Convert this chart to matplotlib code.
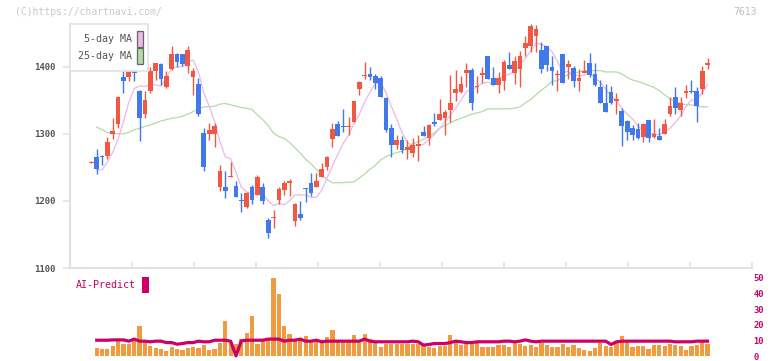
import numpy as np
import matplotlib
matplotlib.use("Agg")
import matplotlib.pyplot as plt
from matplotlib.patches import Rectangle
from matplotlib.transforms import blended_transform_factory

opens = [1257, 1266, 1267, 1267, 1299, 1314, 1385, 1385, 1410, 1364,
         1329, 1364, 1394, 1404, 1370, 1396, 1419, 1418, 1401, 1385,
         1374, 1301, 1299, 1299, 1220, 1220, 1236, 1222, 1201, 1191,
         1221, 1208, 1221, 1171, 1174, 1202, 1216, 1226, 1170, 1181,
         1218, 1227, 1220, 1235, 1250, 1292, 1315, 1311, 1310, 1318,
         1366, 1386, 1389, 1386, 1383, 1353, 1309, 1283, 1291, 1275,
         1271, 1281, 1303, 1293, 1318, 1320, 1324, 1335, 1360, 1362,
         1391, 1395, 1370, 1388, 1416, 1383, 1373, 1379, 1402, 1391,
         1397, 1427, 1430, 1446, 1425, 1431, 1400, 1387, 1419, 1400,
         1398, 1378, 1390, 1405, 1389, 1370, 1346, 1362, 1348, 1334,
         1319, 1309, 1307, 1295, 1321, 1295, 1297, 1299, 1329, 1354,
         1336, 1360, 1363, 1364, 1367, 1403]
highs = [1259, 1277, 1268, 1295, 1323, 1356, 1393, 1411, 1413, 1365,
         1364, 1399, 1406, 1405, 1393, 1431, 1420, 1419, 1431, 1398,
         1383, 1308, 1316, 1316, 1254, 1244, 1258, 1230, 1212, 1213,
         1224, 1239, 1227, 1174, 1187, 1221, 1230, 1233, 1197, 1200,
         1219, 1242, 1241, 1257, 1267, 1316, 1319, 1337, 1325, 1349,
         1378, 1407, 1400, 1389, 1386, 1354, 1315, 1298, 1297, 1290,
         1293, 1298, 1312, 1314, 1331, 1352, 1336, 1388, 1395, 1386,
         1405, 1398, 1386, 1400, 1416, 1400, 1392, 1410, 1422, 1416,
         1423, 1446, 1463, 1462, 1437, 1431, 1415, 1395, 1419, 1410,
         1401, 1397, 1410, 1420, 1405, 1380, 1374, 1371, 1361, 1339,
         1320, 1313, 1316, 1316, 1321, 1322, 1309, 1322, 1354, 1370,
         1355, 1373, 1380, 1370, 1401, 1413]
lows = [1257, 1240, 1254, 1263, 1292, 1309, 1361, 1379, 1379, 1289,
        1324, 1360, 1380, 1373, 1368, 1395, 1400, 1401, 1391, 1358,
        1326, 1245, 1290, 1280, 1214, 1204, 1236, 1205, 1183, 1189,
        1195, 1208, 1195, 1144, 1159, 1195, 1209, 1207, 1162, 1172,
        1199, 1207, 1220, 1235, 1246, 1280, 1296, 1303, 1298, 1318,
        1357, 1382, 1380, 1367, 1354, 1302, 1266, 1277, 1271, 1263,
        1266, 1260, 1296, 1283, 1312, 1320, 1298, 1317, 1349, 1361,
        1369, 1336, 1361, 1376, 1382, 1373, 1360, 1365, 1397, 1374,
        1370, 1415, 1421, 1421, 1390, 1394, 1373, 1363, 1376, 1382,
        1370, 1363, 1390, 1385, 1371, 1345, 1332, 1344, 1330, 1281,
        1290, 1290, 1292, 1287, 1287, 1293, 1290, 1299, 1326, 1330,
        1326, 1353, 1360, 1318, 1359, 1397]
closes = [1258, 1248, 1265, 1288, 1304, 1355, 1378, 1408, 1391, 1324,
          1350, 1394, 1405, 1382, 1386, 1419, 1407, 1404, 1425, 1393,
          1330, 1251, 1306, 1312, 1245, 1214, 1237, 1205, 1200, 1211,
          1202, 1236, 1200, 1152, 1175, 1217, 1227, 1230, 1195, 1174,
          1217, 1211, 1229, 1248, 1266, 1307, 1296, 1310, 1311, 1349,
          1377, 1387, 1385, 1376, 1354, 1305, 1283, 1291, 1275, 1280,
          1283, 1285, 1297, 1313, 1315, 1330, 1333, 1346, 1367, 1374,
          1395, 1345, 1371, 1391, 1382, 1373, 1383, 1407, 1397, 1408,
          1416, 1435, 1460, 1456, 1397, 1402, 1393, 1389, 1376, 1404,
          1379, 1383, 1394, 1387, 1373, 1345, 1332, 1346, 1352, 1312,
          1303, 1298, 1293, 1315, 1293, 1300, 1290, 1315, 1342, 1338,
          1346, 1364, 1362, 1341, 1394, 1405]

ma5 = [None, 1246, 1246, 1258, 1272.6, 1292.0, 1318.0, 1346.6, 1367.2, 1371.2,
       1370.2, 1373.4, 1372.8, 1371.0, 1383.4, 1397.2, 1399.8, 1399.6, 1408.2, 1409.6,
       1391.8, 1360.6, 1341.0, 1318.4, 1288.8, 1265.6, 1262.8, 1242.6, 1220.2, 1213.4,
       1211.0, 1210.8, 1209.8, 1200.2, 1193.0, 1196.0, 1194.2, 1200.2, 1208.8, 1208.6,
       1208.6, 1205.4, 1205.2, 1215.8, 1234.2, 1252.2, 1269.2, 1285.4, 1298.0, 1314.6,
       1328.6, 1346.8, 1361.8, 1374.8, 1375.8, 1361.4, 1340.6, 1321.8, 1301.6, 1286.8,
       1282.4, 1282.8, 1284.0, 1291.6, 1298.6, 1308.0, 1317.6, 1327.4, 1338.2, 1350.0,
       1363.0, 1365.4, 1370.4, 1375.2, 1376.8, 1372.4, 1380.0, 1387.2, 1388.4, 1393.6,
       1402.2, 1412.6, 1423.2, 1435.0, 1432.8, 1430.0, 1421.6, 1407.4, 1391.4, 1392.8,
       1388.2, 1386.2, 1387.2, 1389.4, 1383.2, 1376.4, 1366.2, 1356.6, 1349.6, 1337.4,
       1329.0, 1322.2, 1311.6, 1304.2, 1300.4, 1299.8, 1298.2, 1302.6, 1308.0, 1317.0,
       1326.2, 1341.0, 1350.4, 1350.2, 1361.4, 1373.2]
ma25 = [None, 1310, 1306, 1302, 1300, 1300, 1300, 1302, 1306, 1308,
        1311, 1313, 1316, 1319, 1321, 1323, 1324, 1326, 1329, 1333,
        1337, 1340, 1340, 1341, 1344, 1345, 1343, 1341, 1339, 1338,
        1336, 1328, 1321, 1312, 1301, 1296, 1293, 1287, 1279, 1271,
        1262, 1255, 1247, 1239, 1232, 1227, 1227, 1227, 1228, 1228,
        1234, 1240, 1247, 1253, 1261, 1266, 1269, 1272, 1274, 1279,
        1285, 1288, 1292, 1296, 1301, 1308, 1312, 1316, 1320, 1323,
        1326, 1329, 1331, 1333, 1337, 1337, 1337, 1337, 1337, 1338,
        1340, 1346, 1351, 1358, 1365, 1371, 1378, 1379, 1384, 1388,
        1390, 1392, 1394, 1394, 1394, 1394, 1392, 1392, 1392, 1389,
        1384, 1380, 1378, 1375, 1372, 1369, 1364, 1358, 1352, 1348,
        1345, 1343, 1343, 1341, 1340, 1340]

volume = [None, 5.3, 4.6, 4.6, 6.5, 9.5, 7.8, 7.8, 9.9, 19.2,
          9.3, 6.5, 5.3, 4.6, 3.4, 5.9, 4.6, 4.2, 5.3, 5.9,
          5.3, 7.2, 4.0, 4.6, 8.4, 22.4, 8.4, 7.8, 11.0, 14.8,
          25.5, 7.8, 10.3, 11.6, 49.6, 39.7, 19.2, 14.1, 10.3, 10.3,
          12.8, 10.3, 10.3, 10.3, 12.2, 16.7, 9.7, 9.7, 9.7, 13.5,
          9.1, 14.1, 11.0, 9.1, 5.9, 7.8, 7.8, 7.8, 7.8, 7.8,
          7.8, 7.8, 7.8, 5.9, 5.3, 6.5, 6.5, 13.5, 9.7, 7.2,
          9.1, 7.8, 9.1, 5.9, 5.9, 5.9, 7.2, 7.2, 5.9, 8.4,
          7.8, 6.5, 7.2, 5.9, 8.4, 7.2, 5.9, 5.9, 7.8, 5.9,
          7.2, 5.3, 4.0, 3.4, 5.3, 8.4, 6.5, 5.9, 9.1, 12.9,
          9.1, 5.9, 6.5, 6.5, 4.6, 7.2, 7.2, 6.5, 7.8, 7.2,
          6.5, 4.0, 6.5, 7.2, 9.7, 7.8]
ai_predict = [None, 10.3, 10.3, 10.3, 10.5, 10.5, 10.5, 9.7, 11.0, 9.7,
              9.7, 9.3, 9.7, 9.7, 8.8, 8.8, 7.8, 8.2, 8.8, 8.8,
              9.7, 9.3, 9.3, 10.3, 10.3, 10.3, 9.7, 0.4, 9.9, 10.3,
              10.3, 10.3, 10.3, 11.0, 11.0, 11.0, 9.7, 10.3, 10.3, 11.0,
              9.7, 9.7, 10.3, 9.3, 9.7, 9.7, 9.7, 9.7, 9.7, 9.7,
              9.7, 11.0, 9.7, 9.3, 9.3, 9.3, 9.3, 9.3, 9.3, 9.3,
              9.7, 9.3, 7.2, 7.6, 8.2, 8.2, 8.2, 8.8, 9.7, 9.3,
              8.8, 8.8, 9.3, 9.3, 9.3, 9.3, 9.3, 9.7, 9.7, 9.3,
              9.7, 10.5, 9.7, 9.3, 9.7, 9.7, 9.7, 9.7, 9.7, 9.7,
              9.7, 9.7, 9.7, 9.7, 9.7, 9.7, 9.7, 7.6, 9.3, 9.7,
              9.7, 9.7, 9.7, 9.7, 9.7, 9.7, 9.7, 9.7, 9.7, 9.3,
              9.3, 9.3, 9.3, 9.7, 9.7, 9.7]

date_labels = ["2/24", "3/10", "3/25", "4/8", "4/22", "5/12",
               "5/26", "6/9", "6/23", "7/7", "7/22"]
date_index = [14, 24, 34, 44, 54, 64, 74, 84, 94, 104, 114]

W, H = 772, 361
MONO = "DejaVu Sans Mono"
RED = "#f25744"
BLUE = "#4178ea"
GRID = "#e2e2e2"


def px(x0, y0, x1, y1):
    return [x0 / W, 1 - y1 / H, (x1 - x0) / W, (y1 - y0) / H]


fig = plt.figure(figsize=(W / 100, H / 100), dpi=100)
ax = fig.add_axes(px(70, 24, 752, 268))
axv = fig.add_axes(px(70, 272, 752, 361))

x = np.arange(len(closes))
o = np.array(opens, float)
c = np.array(closes, float)
hi = np.array(highs, float)
lo = np.array(lows, float)
up = c >= o
colors = np.where(up, RED, BLUE)

# moving averages behind the candles
m5 = np.array([np.nan if v is None else v for v in ma5])
m25 = np.array([np.nan if v is None else v for v in ma25])
ax.plot(x, m25, color="#b3dba6", lw=0.9, zorder=1)
ax.plot(x, m5, color="#ebb8ec", lw=0.9, zorder=1)

ax.vlines(x, lo, hi, colors=colors, lw=1.0, zorder=2, clip_on=False)
body = np.maximum(np.abs(c - o), 1.6)
ax.bar(x, body, bottom=np.minimum(o, c), width=0.88, color=colors,
       zorder=3, linewidth=0, clip_on=False)

xlim = (-3.98, 123.3)
ax.set_xlim(*xlim)
ax.set_ylim(1100, 1463.4)
for s in ["top", "right"]:
    ax.spines[s].set_visible(False)
for s in ["left", "bottom"]:
    ax.spines[s].set_color(GRID)
    ax.spines[s].set_linewidth(1.5)
ax.set_yticks([1100, 1200, 1300, 1400])
ax.tick_params(axis="y", direction="out", length=5, width=1.2, color=GRID,
               pad=5, labelsize=6.5, labelcolor="#555555")
for t in ax.get_yticklabels():
    t.set_fontfamily(MONO)
    t.set_fontweight("bold")
ax.set_xticks(np.linspace(xlim[0], xlim[1], 12))
ax.set_xticklabels([])
ax.tick_params(axis="x", direction="in", length=4, width=1.2, color=GRID)

tr = blended_transform_factory(ax.transData, ax.transAxes)
for lab, j in zip(date_labels, date_index):
    ax.text(j, -0.058, lab, transform=tr, ha="center", va="center",
            fontsize=6.5, family=MONO, color="#555555", fontweight="bold")

# legend box
legend_box = Rectangle((70 / W, 1 - 71 / H), 78 / W, 47 / H, transform=fig.transFigure,
                       facecolor="white", edgecolor=GRID, lw=1.2, zorder=5)
fig.add_artist(legend_box)
for label, col, yc in [("5-day MA", "#ebb8ec", 39), ("25-day MA", "#b3dba6", 56)]:
    fig.text(132 / W, 1 - yc / H, label, ha="right", va="center", fontsize=7.2,
             family=MONO, color="#555555", zorder=6)
    sw = Rectangle((136.5 / W, 1 - (yc + 7.5) / H), 6 / W, 15 / H, transform=fig.transFigure,
                   facecolor=col, edgecolor="#666666", lw=0.9, zorder=6)
    fig.add_artist(sw)

fig.text(15 / W, 1 - 12 / H, "(C)https://chartnavi.com/", ha="left", va="center",
         fontsize=7, family=MONO, color="#c9c9c9")
fig.text(757 / W, 1 - 12 / H, "7613", ha="right", va="center",
         fontsize=7, family=MONO, color="#bdbdbd")

# volume + AI-Predict panel
vol = np.array([np.nan if v is None else v for v in volume])
ai = np.array([np.nan if v is None else v for v in ai_predict])
axv.bar(x[1:], vol[1:], width=0.78, color="#f29a40", linewidth=0, zorder=1)
axv.plot(x, ai, color="#cc0066", lw=2.3, zorder=2, solid_joinstyle="round")
axv.set_xlim(*xlim)
axv.set_ylim(-2.85, 53.45)
for s in axv.spines.values():
    s.set_visible(False)
axv.set_xticks([])
axv.yaxis.tick_right()
axv.set_yticks([0, 10, 20, 30, 40, 50])
axv.tick_params(axis="y", length=0, pad=1, labelsize=6.3, labelcolor="#cc0066")
for t in axv.get_yticklabels():
    t.set_fontfamily(MONO)
    t.set_fontweight("bold")

fig.text(76 / W, 1 - 285 / H, "AI-Predict", ha="left", va="center", fontsize=7.2,
         family=MONO, color="#cc0066")
fig.add_artist(Rectangle((142 / W, 1 - 293 / H), 7 / W, 16 / H, transform=fig.transFigure,
                         facecolor="#cc0066", edgecolor="none"))

fig.savefig("out.png", dpi=100)
